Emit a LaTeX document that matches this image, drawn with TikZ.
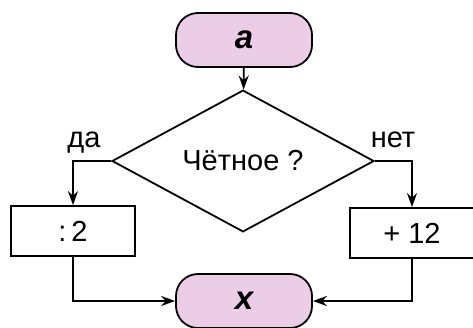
\documentclass[tikz,border=0pt]{standalone}
\usepackage{fontspec}
\setmainfont{Liberation Sans}
\usetikzlibrary{shapes.geometric,arrows.meta}
\definecolor{termpink}{RGB}{236,205,231}

\begin{document}
\begin{tikzpicture}[x=1pt,y=-1pt, line width=1.8pt,
        font=\fontsize{29}{33}\selectfont,
        term/.style={draw=black, fill=termpink, rectangle, rounded corners=22pt,
                     minimum width=136pt, minimum height=54pt, inner sep=0pt,
                     font=\fontsize{33}{36}\selectfont\bfseries\itshape},
        cond/.style={draw=black, diamond, minimum width=262pt, minimum height=107pt, inner sep=0pt},
        proc/.style={draw=black, rectangle, minimum width=124pt, minimum height=50pt, inner sep=0pt},
        flow/.style={-{Stealth[length=14pt,width=10pt]}}]
      \useasboundingbox (0,0) rectangle (473,327);
      % Начало и конец
      \node[term] (a) at (244,40) {a};
      \node[term] (x) at (244,301) {x};
      % Условие
      \node[cond] (chet) at (243,161) {Чётное ?};
      \node[anchor=base] (da) at (84,147) {да};
      \node[anchor=base] (net) at (393,147) {нет};
      % Действия
      \node[proc] (del) at (73,231) {:\,2};
      \node[proc] (plus) at (412,233) {+ 12};
      % Стрелки
      \draw[flow] (a) -- (chet);
      \draw[flow] (chet.west) -| (del.north);
      \draw[flow] (chet.east) -| (plus.north);
      \draw[flow] (del.south) |- (x.west);
      \draw[flow] (plus.south) |- (x.east);
    \end{tikzpicture}
\end{document}
